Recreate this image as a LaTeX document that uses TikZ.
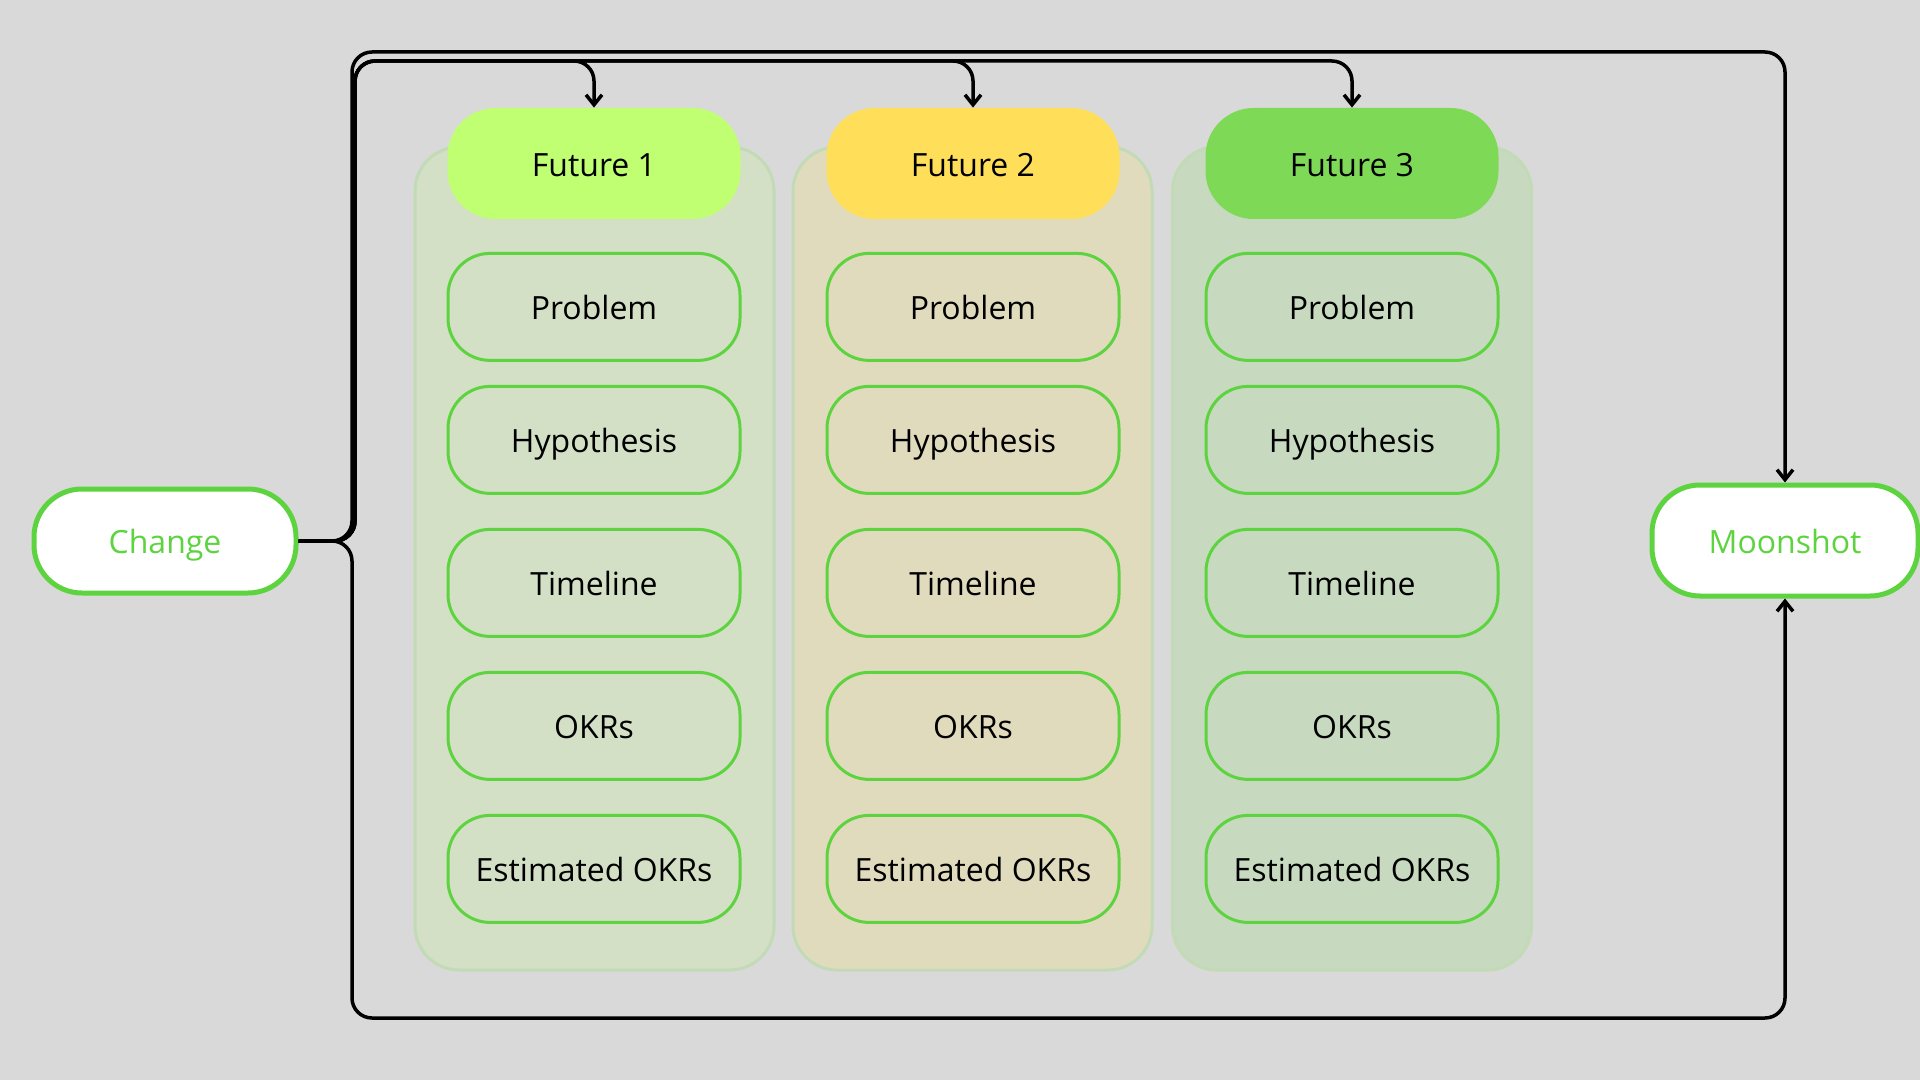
\documentclass[tikz,border=0pt]{standalone}
\usepackage{fontspec}
\setmainfont{Open Sans}
\usetikzlibrary{positioning,arrows.meta}
\definecolor{canvas}{HTML}{D9D9D9}
\definecolor{pane1}{HTML}{D3E0C5}
\definecolor{pane2}{HTML}{E1DBBE}
\definecolor{pane3}{HTML}{C7D9BF}
\definecolor{paneline}{HTML}{C2DBB6}
\definecolor{lime}{HTML}{C1FF72}
\definecolor{sun}{HTML}{FFDE59}
\definecolor{grass}{HTML}{7ED957}
\definecolor{leaf}{HTML}{5DD43F}

\begin{document}
\begin{tikzpicture}[x=0.5pt,y=-0.5pt,
    font=\fontsize{16}{19}\selectfont,
    every node/.style={text height=12.6pt, text depth=0pt},
    panel/.style={draw=paneline, line width=1.5pt, rounded corners=22pt,
      minimum width=179.5pt, minimum height=411.5pt},
    future/.style={rounded corners=24pt, minimum width=146.5pt,
      minimum height=55.5pt},
    item/.style={draw=leaf, line width=1.5pt, rounded corners=21pt,
      minimum width=146pt, minimum height=53.5pt, outer sep=0pt},
    goal/.style={draw=leaf, fill=white, text=leaf, line width=2.5pt,
      rounded corners=24pt, minimum height=52pt},
    link/.style={line width=1.75pt, rounded corners=10pt,
      -{Straight Barb[length=5pt,width=8pt]}},
    node distance=18pt]
    % fix the page and paint the background
    \useasboundingbox (0,0) rectangle (1920,1080);
    \fill[canvas] (0,0) rectangle (1920,1080);

    % define the three column panels
    \node[panel, fill=pane1] (c1) at (594.5,558.5) {};
    \node[panel, fill=pane2] (c2) at (972.5,558.5) {};
    \node[panel, fill=pane3] (c3) at (1352,558.5) {};

    % define the future headers
    \node[future, fill=lime] (f1) at (594,163.5) {Future 1};
    \node[future, fill=sun] (f2) at (973,163.5) {Future 2};
    \node[future, fill=grass] (f3) at (1352,163.5) {Future 3};

    % first future, items in relation to each other
    \node[item, below=17pt of f1] (p1) {Problem};
    \node[item, below=13pt of p1] (h1) {Hypothesis};
    \node[item, below=of h1] (t1) {Timeline};
    \node[item, below=of t1] (o1) {OKRs};
    \node[item, below=of o1] (e1) {Estimated OKRs};

    % second future
    \node[item, below=17pt of f2] (p2) {Problem};
    \node[item, below=13pt of p2] (h2) {Hypothesis};
    \node[item, below=of h2] (t2) {Timeline};
    \node[item, below=of t2] (o2) {OKRs};
    \node[item, below=of o2] (e2) {Estimated OKRs};

    % third future
    \node[item, below=17pt of f3] (p3) {Problem};
    \node[item, below=13pt of p3] (h3) {Hypothesis};
    \node[item, below=of h3] (t3) {Timeline};
    \node[item, below=of t3] (o3) {OKRs};
    \node[item, below=of o3] (e3) {Estimated OKRs};

    % define start and goal
    \node[goal, minimum width=131pt] (change) at (165,541) {Change};
    \node[goal, minimum width=133pt, minimum height=55.5pt] (moon) at (1785,540.5) {Moonshot};

    % bends of the connectors
    \coordinate (upper) at (352,52);
    \coordinate (inner) at (355,61);
    \coordinate (lower) at (352,1018);

    % connect change to the futures and to the moonshot
    \draw[link] (change.east) -| (upper) -| (moon.north);
    \draw[link] (change.east) -| (inner) -| (f1.north);
    \draw[link] (change.east) -| (inner) -| (f2.north);
    \draw[link] (change.east) -| (inner) -| (f3.north);
    \draw[link] (change.east) -| (lower) -| (moon.south);
  % exit tikzpicture environment
  \end{tikzpicture}
\end{document}
